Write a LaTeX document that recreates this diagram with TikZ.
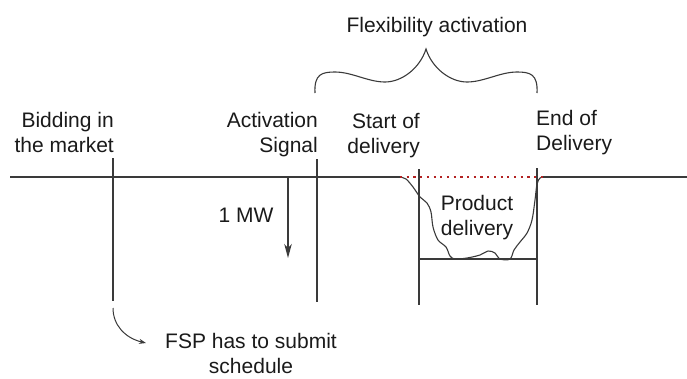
\documentclass[tikz,border=0pt]{standalone}
\usepackage{fontspec}
\setmainfont{Liberation Sans}
\usetikzlibrary{arrows.meta}
\definecolor{ink}{HTML}{1A1A1A}
\definecolor{rule}{HTML}{3A3A3A}
\definecolor{dotred}{HTML}{B22222}
\begin{document}
\begin{tikzpicture}[x=1pt,y=-1pt,
  lbl/.style={inner sep=0pt, text=ink, font=\fontsize{21}{25.5}\selectfont},
  rl/.style={draw=rule, line width=1.3pt},
  thin/.style={draw=rule, line width=1.1pt}]
\useasboundingbox (0,0) rectangle (687,378);

% time axis with the delivery dip
\coordinate (axL) at (10,177);
\coordinate (dipL) at (400,177);
\coordinate (dipR) at (543,177);
\coordinate (axR) at (687,177);
\draw[rl] (axL) -- (dipL);
\draw[rl] (dipR) -- (axR);
\draw[thin] plot[smooth, tension=0.55] coordinates {
  (400,177) (406,179) (413,187) (420,197) (427,203) (431,212) (433,227)
  (438,240) (446,247) (450,256) (455,259) (467,258) (480,255) (488,251)
  (495,253) (500,259) (510,259) (514,250) (520,242) (527,233) (532,220)
  (535,200) (537,184) (540,178) (543,177)};
\draw[dotred, line width=2.2pt, dash pattern=on 2.2pt off 4.5pt] (dipL) -- (dipR);

% event markers
\coordinate (bidTop) at (113,158); \coordinate (bidBot) at (113,301);
\coordinate (actTop) at (317,159); \coordinate (actBot) at (317,302);
\coordinate (sodTop) at (419,169); \coordinate (sodBot) at (419,305);
\coordinate (eodTop) at (537,168); \coordinate (eodBot) at (537,305);
\draw[thin] (bidTop) -- (bidBot);
\draw[thin] (actTop) -- (actBot);
\draw[thin] (sodTop) -- (sodBot);
\draw[thin] (eodTop) -- (eodBot);
\coordinate (floorL) at (419,259); \coordinate (floorR) at (537,259);
\draw[thin] (floorL) -- (floorR);

% 1 MW step
\coordinate (mwTop) at (288,177); \coordinate (mwBot) at (288,258);
\draw[thin, -{Stealth[length=14pt, width=7.5pt, inset=4pt]}] (mwTop) -- (mwBot);

% brace over the activation window
\draw[thin] (315,93) .. controls (314,74) and (322,72) .. (335,72)
  .. controls (352,72) and (368,82) .. (385,82)
  .. controls (402,82) and (420,68) .. (426,49)
  .. controls (432,68) and (450,82) .. (467,82)
  .. controls (484,82) and (500,72) .. (517,72)
  .. controls (530,72) and (538,74) .. (537,93);

% schedule submission arrow
\coordinate (fspFrom) at (113,308);
\coordinate (fspTo) at (146,343);
\draw[thin, line width=1pt, -{Stealth[length=7pt, width=5pt]}] (fspFrom) .. controls (113,325) and (125,338) .. (fspTo);

% labels (base anchors of two-line labels sit on the last line)
\node[lbl, anchor=base] (flex) at (437,32) {Flexibility activation};
\node[lbl, anchor=base east, align=right] (bid) at (114,152.5) {Bidding in\\the market};
\node[lbl, anchor=base east, align=right] (act) at (318,152.5) {Activation\\Signal};
\node[lbl, anchor=base east, align=right] (sod) at (420,153.5) {Start of\\delivery};
\node[lbl, anchor=base west, align=left] (eod) at (536,150.5) {End of\\Delivery};
\node[lbl, anchor=base] (mw) at (246,222) {1 MW};
\node[lbl, anchor=base, align=center] (prod) at (477,235.5) {Product\\delivery};
\node[lbl, anchor=base, align=center] (fsp) at (251,373.5) {FSP has to submit\\schedule};
\end{tikzpicture}
\end{document}
